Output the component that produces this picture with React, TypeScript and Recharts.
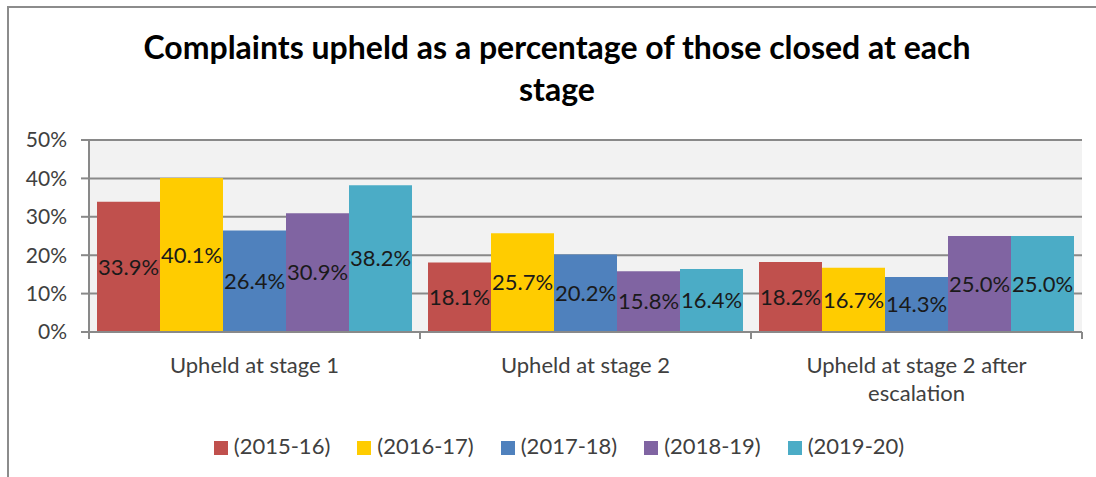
import { BarChart, Bar, XAxis, YAxis, CartesianGrid, Legend, LabelList } from 'recharts'

const stages = ['Upheld at stage 1', 'Upheld at stage 2', 'Upheld at stage 2 after escalation']
const years = ['(2015-16)', '(2016-17)', '(2017-18)', '(2018-19)', '(2019-20)']
const y1516 = [33.9, 18.1, 18.2]
const y1617 = [40.1, 25.7, 16.7]
const y1718 = [26.4, 20.2, 14.3]
const y1819 = [30.9, 15.8, 25.0]
const y1920 = [38.2, 16.4, 25.0]
const yTicks = [0, 10, 20, 30, 40, 50]

const colors = ['#C0504D', '#FFCC00', '#4F81BD', '#8064A2', '#4BACC6']
const series = [y1516, y1617, y1718, y1819, y1920]

const data = stages.map((s, i) => {
  const row: Record<string, string | number> = { stage: s }
  years.forEach((y, j) => {
    row[y] = series[j][i]
  })
  return row
})

const FONT = 'Lato, "Open Sans", sans-serif'
const AXIS = '#898989'

// plot spans x 89..1082, so each category is about 331px wide
const BAND = (1082 - 89) / 3

// greedy wrap by character count, good enough for these labels
function wrap(s: string, max = 24) {
  const lines: string[] = []
  let cur = ''
  s.split(' ').forEach((w) => {
    const next = cur ? cur + ' ' + w : w
    if (next.length > max && cur) {
      lines.push(cur)
      cur = w
    } else cur = next
  })
  if (cur) lines.push(cur)
  return lines
}

function StageTick(props: any) {
  const { x, y, payload, index } = props
  const left = x - BAND / 2
  return (
    <g>
      <line x1={left} y1={y - 8} x2={left} y2={y - 1} stroke={AXIS} strokeWidth={2} />
      {index === stages.length - 1 && (
        <line x1={left + BAND} y1={y - 8} x2={left + BAND} y2={y - 1} stroke={AXIS} strokeWidth={2} />
      )}
      <text x={x} y={y + 33} textAnchor="middle" fontFamily={FONT} fontSize={22} fill="#404040">
        {wrap(String(payload.value)).map((l, i) => (
          <tspan key={i} x={x} dy={i === 0 ? 0 : 28}>
            {l}
          </tspan>
        ))}
      </text>
    </g>
  )
}

export default function App() {
  return (
    <div style={{ position: 'absolute', left: 0, top: 0, width: 1096, height: 477, background: '#fff', fontFamily: FONT }}>
      <div
        style={{
          position: 'absolute',
          left: 7,
          top: 6,
          width: 1089,
          height: 471,
          borderLeft: '2px solid #8c8c8c',
          borderTop: '2px solid #8c8c8c',
        }}
      />
      <div
        style={{
          position: 'absolute',
          left: 0,
          top: 26,
          width: 1114,
          textAlign: 'center',
          fontWeight: 700,
          fontSize: 32,
          lineHeight: '42px',
          color: '#000',
        }}
      >
        Complaints upheld as a percentage of those closed at each
        <br />
        stage
      </div>
      <BarChart
        width={1096}
        height={477}
        data={data}
        margin={{ top: 140, right: 14, bottom: 29, left: 9 }}
        barGap={0}
        barCategoryGap={8}
        style={{ position: 'absolute', left: 0, top: 0 }}
      >
        <CartesianGrid vertical={false} stroke={AXIS} strokeWidth={2} fill="#F2F2F2" />
        <XAxis
          dataKey="stage"
          tick={<StageTick />}
          tickLine={false}
          axisLine={{ stroke: AXIS, strokeWidth: 2 }}
          height={89}
          interval={0}
        />
        <YAxis
          domain={[0, 50]}
          ticks={yTicks}
          tickFormatter={(v: number) => `${v}%`}
          width={80}
          axisLine={{ stroke: AXIS, strokeWidth: 2 }}
          tickLine={{ stroke: AXIS, strokeWidth: 2 }}
          tickSize={8}
          tickMargin={14}
          tick={{ fontFamily: FONT, fontSize: 21, fill: '#404040' }}
        />
        <Legend
          verticalAlign="bottom"
          align="center"
          iconType="square"
          iconSize={14}
          wrapperStyle={{ fontFamily: FONT, fontSize: 22, bottom: 18, left: 36 }}
          formatter={(v: string) => <span style={{ color: '#404040', marginLeft: 2, marginRight: 17 }}>{v}</span>}
        />
        {years.map((y, j) => (
          <Bar key={y} dataKey={y} fill={colors[j]} isAnimationActive={false}>
            <LabelList
              dataKey={y}
              position="center"
              formatter={(v: any) => `${Number(v).toFixed(1)}%`}
              style={{ fontFamily: FONT, fontSize: 22, fill: '#1a1a1a' }}
            />
          </Bar>
        ))}
      </BarChart>
    </div>
  )
}
